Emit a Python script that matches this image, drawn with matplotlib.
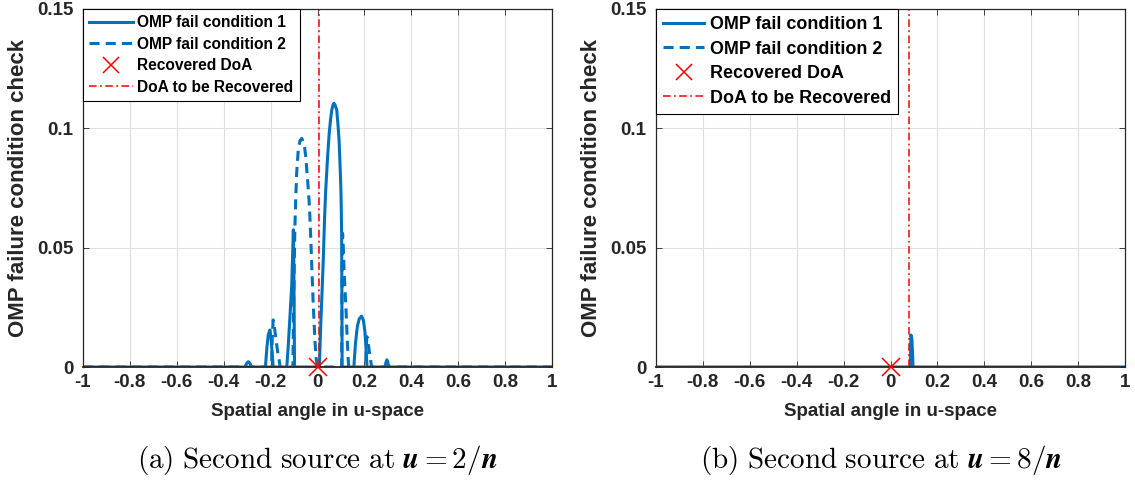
import matplotlib
matplotlib.use("Agg")
import matplotlib.pyplot as plt

plt.rcParams['font.family'] = ['Liberation Sans', 'DejaVu Sans']
plt.rcParams['font.weight'] = 'bold'
plt.rcParams['mathtext.fontset'] = 'cm'

# ---------------- data ----------------
xticks = [-1, -0.8, -0.6, -0.4, -0.2, 0, 0.2, 0.4, 0.6, 0.8, 1]
xtick_labels = ['-1', '-0.8', '-0.6', '-0.4', '-0.2', '0', '0.2', '0.4', '0.6', '0.8', '1']
yticks = [0, 0.05, 0.1, 0.15]
ytick_labels = ['0', '0.05', '0.1', '0.15']

# (a) second source at u = 2/n
a_cond1_u = [-1, -0.310, -0.302, -0.295, -0.288, -0.281,
             -0.222, -0.216, -0.210, -0.203, -0.198, -0.192, -0.189,
             -0.131, -0.124, -0.117, -0.110, -0.106, -0.103, -0.101, -0.098,
             0.008, 0.014, 0.020, 0.025, 0.030, 0.035, 0.043, 0.050, 0.056, 0.061, 0.066,
             0.070, 0.075, 0.082, 0.087, 0.092, 0.096, 0.100, 0.103, 0.104, 0.105,
             0.155, 0.162, 0.170, 0.178, 0.188, 0.196, 0.202, 0.207, 0.211,
             0.288, 0.292, 0.296, 0.300, 0.304, 1]
a_cond1_v = [0, 0, 0.0015, 0.0022, 0.0015, 0,
             0, 0.008, 0.0135, 0.0155, 0.012, 0.004, 0,
             0, 0.010, 0.022, 0.034, 0.047, 0.0575, 0.045, 0,
             0, 0.018, 0.033, 0.046, 0.062, 0.074, 0.088, 0.098, 0.104, 0.1077, 0.1098,
             0.1105, 0.1098, 0.1077, 0.102, 0.095, 0.085, 0.074, 0.056, 0.030, 0,
             0, 0.010, 0.017, 0.0202, 0.0213, 0.0195, 0.015, 0.008, 0,
             0, 0.002, 0.003, 0.002, 0, 0]

a_cond2_u = [-1, -0.196, -0.193, -0.189, -0.184, -0.177, -0.170, -0.163, -0.159,
             -0.105, -0.101, -0.098, -0.096, -0.093, -0.089, -0.082, -0.075, -0.067,
             -0.060, -0.055, -0.050, -0.042, -0.036, -0.032, -0.028, -0.024, -0.018,
             -0.011, -0.005, 0.0,
             0.103, 0.105, 0.107, 0.110, 0.114, 0.118, 0.122, 0.127, 0.131, 0.133,
             0.205, 0.208, 0.211, 0.215, 0.220, 0.226, 0.231, 1]
a_cond2_v = [0, 0, 0.012, 0.0197, 0.017, 0.0115, 0.0065, 0.0025, 0,
             0, 0.030, 0.050, 0.060, 0.070, 0.081, 0.0909, 0.0948, 0.0958,
             0.094, 0.092, 0.088, 0.078, 0.070, 0.062, 0.052, 0.041, 0.026,
             0.011, 0.003, 0,
             0, 0.045, 0.056, 0.050, 0.039, 0.031, 0.023, 0.011, 0.003, 0,
             0, 0.009, 0.0127, 0.011, 0.007, 0.003, 0, 0]

a_doa_true = 0.008
a_doa_rec = 0.0

# (b) second source at u = 8/n
b_cond1_u = [-1, 0.085, 0.087, 0.091, 0.094, 0.096, 1]
b_cond1_v = [0, 0, 0.0134, 0.012, 0.006, 0, 0]
b_cond2_u = [-1, 1]
b_cond2_v = [0, 0]
b_doa_true = 0.079
b_doa_rec = 0.0

captions = [r'$\mathrm{(a)\ Second\ source\ at\ }\mathbfit{u}=2/\mathbfit{n}$',
            r'$\mathrm{(b)\ Second\ source\ at\ }\mathbfit{u}=8/\mathbfit{n}$']
captions_fallback = [r'$\mathrm{(a)\ Second\ source\ at\ }\mathbf{u}=2/\mathbf{n}$',
                     r'$\mathrm{(b)\ Second\ source\ at\ }\mathbf{u}=8/\mathbf{n}$']

legend_labels = ['OMP fail condition 1', 'OMP fail condition 2',
                 'Recovered DoA', 'DoA to be Recovered']

# ---------------- figure ----------------
W, H = 1135, 483
fig = plt.figure(figsize=(W / 100, H / 100), dpi=100)

blue = '#0072BD'
axcol = '#262626'

panels = [
    dict(rect=[83 / W, 1 - 367 / H, 469 / W, 358 / H], c1=(a_cond1_u, a_cond1_v),
         c2=(a_cond2_u, a_cond2_v), doa=a_doa_true, rec=a_doa_rec, lfs=11.2, hl=2.8,
         cap_x=317 / W),
    dict(rect=[656 / W, 1 - 367 / H, 469 / W, 358 / H], c1=(b_cond1_u, b_cond1_v),
         c2=(b_cond2_u, b_cond2_v), doa=b_doa_true, rec=b_doa_rec, lfs=12.9, hl=2.3,
         cap_x=881 / W),
]

cap_texts = []
for i, p in enumerate(panels):
    ax = fig.add_axes(p['rect'])
    l1, = ax.plot(p['c1'][0], p['c1'][1], color=blue, lw=2.2, solid_joinstyle='round')
    l2, = ax.plot(p['c2'][0], p['c2'][1], color=blue, lw=2.2, linestyle=(0, (3.3, 2.0)))
    mk, = ax.plot([p['rec']], [0], linestyle='none', marker='x', color='#ff0000',
                  markersize=13, markeredgewidth=1.1, clip_on=False, zorder=12)
    dl = ax.axvline(p['doa'], color='#ff0000', lw=1.1, linestyle=(0, (5, 2.2, 1.2, 2.2)))

    ax.set_xlim(-1, 1)
    ax.set_ylim(0, 0.15)
    ax.set_xticks(xticks)
    ax.set_xticklabels(xtick_labels)
    ax.set_yticks(yticks)
    ax.set_yticklabels(ytick_labels)
    ax.grid(True, color='#dfdfdf', lw=0.8)
    ax.set_axisbelow(True)
    for s in ax.spines.values():
        s.set_color(axcol)
        s.set_linewidth(0.9)
        s.set_zorder(10)
    ax.spines['bottom'].set_linewidth(1.3)
    ax.tick_params(direction='in', top=True, right=True, length=4, width=0.6,
                   color=axcol, labelsize=13.5, labelcolor=axcol)
    ax.tick_params(axis='x', pad=5)
    ax.tick_params(axis='y', pad=7)
    for t in ax.get_xticklabels() + ax.get_yticklabels():
        t.set_fontweight('bold')
    ax.set_xlabel('Spatial angle in u-space', fontsize=13.5, fontweight='bold',
                  color=axcol, labelpad=9)
    ax.set_ylabel('OMP failure condition check', fontsize=16, fontweight='bold',
                  color=axcol, labelpad=6)

    leg = ax.legend([l1, l2, mk, dl], legend_labels, loc='upper left',
                    bbox_to_anchor=(0, 1), borderaxespad=0, fancybox=False,
                    framealpha=1, edgecolor='#000000',
                    prop={'weight': 'bold', 'size': p['lfs']},
                    handlelength=p['hl'], handletextpad=0.3, labelspacing=0.42,
                    borderpad=0.4, markerscale=0.85)
    leg.get_frame().set_linewidth(0.8)
    leg.set_zorder(20)

    ct = fig.text(p['cap_x'], 0.048, captions[i], ha='center', va='center',
                  fontsize=21, fontweight='normal')
    cap_texts.append(ct)

try:
    fig.canvas.draw()
except Exception:
    for i, ct in enumerate(cap_texts):
        ct.set_text(captions_fallback[i])

fig.savefig('out.png', dpi=100)
